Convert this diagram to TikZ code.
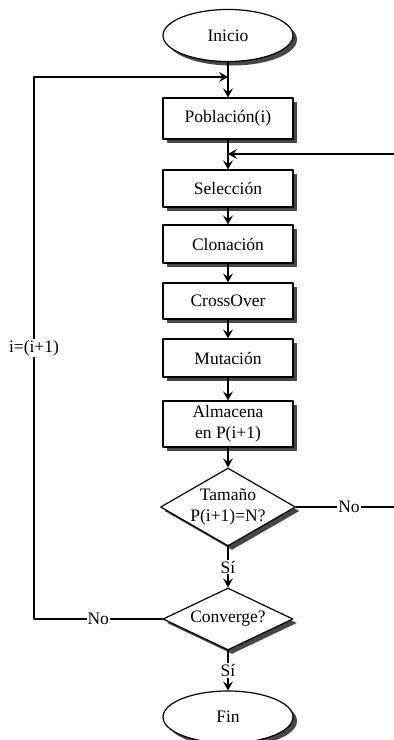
\documentclass[tikz,border=0pt]{standalone}
\usepackage{fontspec}
\setmainfont{Liberation Serif}
\usepackage{tikz}
\usetikzlibrary{shapes.geometric}
\usetikzlibrary{shadows}
\usetikzlibrary{arrows.meta}
\tikzstyle{every node}=[font=\fontsize{17.5}{20.5}\selectfont]
\tikzstyle{sombra}=[drop shadow={shadow xshift=4pt,shadow yshift=-4pt,fill=black!72,opacity=1}]
\tikzstyle{caja}=[draw,line width=1.2pt,fill=white,sombra,minimum width=130pt,minimum height=38pt,inner sep=2pt,align=center]
\tikzstyle{terminal}=[draw,ellipse,line width=1.2pt,fill=white,sombra,minimum width=130pt,minimum height=52pt,inner sep=0pt]
\tikzstyle{decision}=[draw,diamond,line width=1.2pt,fill=white,sombra,inner sep=0pt]
\tikzstyle{etiq}=[fill=white,inner sep=1pt]

\begin{document}
\begin{tikzpicture}[line cap=round,line join=round,>={Stealth[length=9pt,width=10pt,inset=3.5pt]},x=1pt,y=-1pt]
\useasboundingbox (0,0) rectangle (394,740);
\node[terminal] (ini) at (228,35.5) {Inicio};
\node[caja,minimum height=41pt] (pob) at (228,118.5) {Población(i)};
\node[caja,minimum height=37pt] (sel) at (228,188.5) {Selección};
\node[caja] (clo) at (228,244) {Clonación};
\node[caja,minimum height=36pt] (cro) at (228,301) {CrossOver};
\node[caja] (mut) at (228,358) {Mutación};
\node[caja,minimum height=46pt] (alm) at (228,424) {Almacena\\en P(i+1)};
\node[decision,minimum width=135pt,minimum height=78pt,label={[align=center]center:Tamaño\\P(i+1)=N?}] (tam) at (228,507) {};
\node[decision,minimum width=130pt,minimum height=62pt,label={center:Converge?}] (conv) at (228,619) {};
\node[terminal] (fin) at (228,717) {Fin};
\coordinate (retorno) at (228,77);
\coordinate (izq) at (34,77);
\coordinate (reentra) at (228,154);
\coordinate (der) at (396,154);
\draw[line width=1.2pt,->] (ini) -- (pob);
\draw[line width=1.2pt,->] (pob) -- (sel);
\draw[line width=1.2pt,->] (sel) -- (clo);
\draw[line width=1.2pt,->] (clo) -- (cro);
\draw[line width=1.2pt,->] (cro) -- (mut);
\draw[line width=1.2pt,->] (mut) -- (alm);
\draw[line width=1.2pt,->] (alm) -- (tam);
\draw[line width=1.2pt,->] (tam) -- node[etiq]{Sí} (conv);
\draw[line width=1.2pt,->] (conv) -- node[etiq]{Sí} (fin);
\draw[line width=1.2pt,->] (tam.east) -- node[etiq,pos=0.53]{No} (tam.east -| der) -- (der) -- (reentra);
\draw[line width=1.2pt,->] (conv.west) -- node[etiq]{No} (conv.west -| izq) -- node[etiq]{i=(i+1)} (izq) -- (retorno);
\end{tikzpicture}
\end{document}
